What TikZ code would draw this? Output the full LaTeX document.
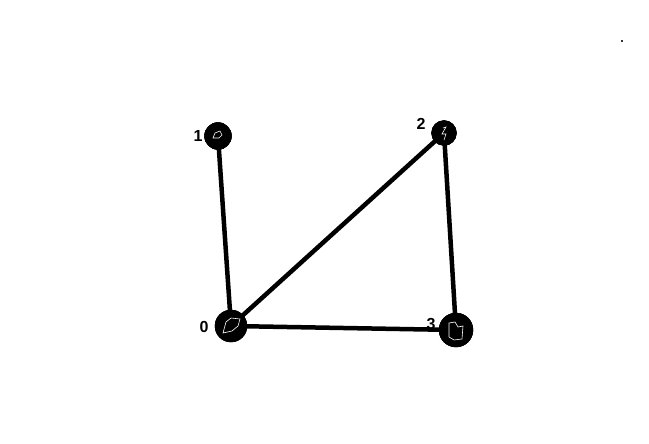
\documentclass[tikz,border=0pt]{standalone}
\usepackage{fontspec}
\setmainfont{Liberation Sans}
\begin{document}
\begin{tikzpicture}[x=1pt,y=-1pt,
  vtx/.style={circle,fill=black,draw=black,inner sep=0pt,minimum size=#1},
  edge/.style={line width=4.5pt,black},
  lbl/.style={font=\fontsize{16}{16}\selectfont\bfseries,inner sep=0pt},
  scrib/.style={white,line width=0.6pt}]
\useasboundingbox[fill=white] (0,0) rectangle (649,444);
\node[vtx=27pt] (n1) at (218,136) {};
\node[vtx=25pt] (n2) at (444,133) {};
\node[vtx=32pt] (n0) at (231,326) {};
\node[vtx=34pt] (n3) at (456,330) {};
\draw[edge] (n1.center) -- (n0.center);
\draw[edge] (n0.center) -- (n2.center);
\draw[edge] (n2.center) -- (n3.center);
\draw[edge] (n0.center) -- (n3.center);
\node[vtx=27pt] at (n1) {};
\node[vtx=25pt] at (n2) {};
\node[vtx=32pt] at (n0) {};
\node[vtx=34pt] at (n3) {};
% white scribbles inside blobs
\draw[scrib] (213,138) -- (215,133) -- (220,131) -- (222,135) -- (219,138) -- cycle;
\draw[scrib] (443,128) -- (446,127) -- (442,134) -- (446,134) -- (444,140);
\draw[scrib] (223,333) -- (226,322) -- (231,318) -- (240,319) -- (238,326) -- (232,331) -- cycle;
\draw[scrib] (449,337) -- (449,323) -- (455,322) -- (458,327) -- (463,326) -- (462,339) -- (454,340) -- cycle;
\node[lbl] (l1) at (198,136) {1};
\node[lbl] (l2) at (421,124) {2};
\node[lbl] (l0) at (204,327) {0};
\node[lbl] (l3) at (431,324) {3};
\fill[black!80] (621,40) rectangle (623,42);
\end{tikzpicture}
\end{document}
